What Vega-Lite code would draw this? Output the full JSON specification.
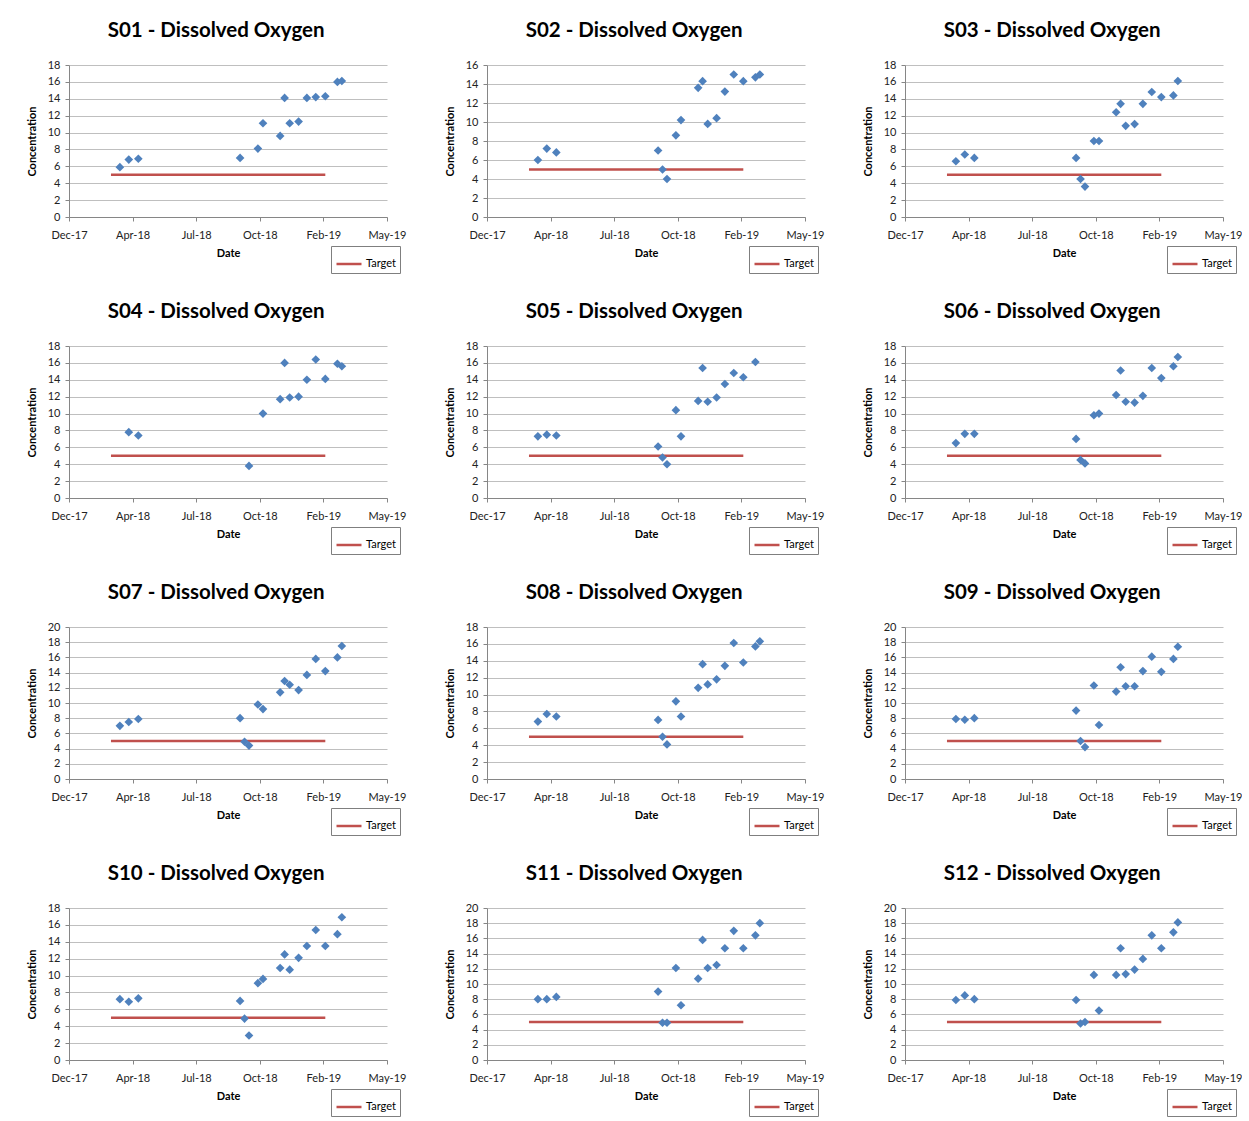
{
"$schema": "https://vega.github.io/schema/vega-lite/v6.json",
"background": "white",
"padding": {"left": 26, "top": 20, "right": 0, "bottom": 0},
"datasets": {
"target": [
{"date": "2018-03-07", "value": 5, "series": "Target"},
{"date": "2019-02-07", "value": 5, "series": "Target"}
],
"obs": [
{"site":"S01","date":"2018-03-21","value":5.9},{"site":"S01","date":"2018-04-04","value":6.8},{"site":"S01","date":"2018-04-19","value":6.9},{"site":"S01","date":"2018-09-26","value":7.0},{"site":"S01","date":"2018-10-24","value":8.1},{"site":"S01","date":"2018-11-01","value":11.1},{"site":"S01","date":"2018-11-28","value":9.6},{"site":"S01","date":"2018-12-05","value":14.1},{"site":"S01","date":"2018-12-13","value":11.1},{"site":"S01","date":"2018-12-27","value":11.3},{"site":"S01","date":"2019-01-09","value":14.1},{"site":"S01","date":"2019-01-23","value":14.2},{"site":"S01","date":"2019-02-07","value":14.3},{"site":"S01","date":"2019-02-26","value":16.0},{"site":"S01","date":"2019-03-05","value":16.1},
{"site":"S02","date":"2018-03-21","value":6.0},{"site":"S02","date":"2018-04-04","value":7.2},{"site":"S02","date":"2018-04-19","value":6.8},{"site":"S02","date":"2018-09-26","value":7.0},{"site":"S02","date":"2018-10-03","value":5.0},{"site":"S02","date":"2018-10-10","value":4.0},{"site":"S02","date":"2018-10-24","value":8.6},{"site":"S02","date":"2018-11-01","value":10.2},{"site":"S02","date":"2018-11-28","value":13.6},{"site":"S02","date":"2018-12-05","value":14.3},{"site":"S02","date":"2018-12-13","value":9.8},{"site":"S02","date":"2018-12-27","value":10.4},{"site":"S02","date":"2019-01-09","value":13.2},{"site":"S02","date":"2019-01-23","value":15.0},{"site":"S02","date":"2019-02-07","value":14.3},{"site":"S02","date":"2019-02-26","value":14.7},{"site":"S02","date":"2019-03-05","value":15.0},
{"site":"S03","date":"2018-03-21","value":6.6},{"site":"S03","date":"2018-04-04","value":7.4},{"site":"S03","date":"2018-04-19","value":7.0},{"site":"S03","date":"2018-09-26","value":7.0},{"site":"S03","date":"2018-10-03","value":4.5},{"site":"S03","date":"2018-10-10","value":3.6},{"site":"S03","date":"2018-10-24","value":9.0},{"site":"S03","date":"2018-11-01","value":9.0},{"site":"S03","date":"2018-11-28","value":12.4},{"site":"S03","date":"2018-12-05","value":13.4},{"site":"S03","date":"2018-12-13","value":10.8},{"site":"S03","date":"2018-12-27","value":11.0},{"site":"S03","date":"2019-01-09","value":13.4},{"site":"S03","date":"2019-01-23","value":14.8},{"site":"S03","date":"2019-02-07","value":14.2},{"site":"S03","date":"2019-02-26","value":14.4},{"site":"S03","date":"2019-03-05","value":16.1},
{"site":"S04","date":"2018-04-04","value":7.8},{"site":"S04","date":"2018-04-19","value":7.4},{"site":"S04","date":"2018-10-10","value":3.8},{"site":"S04","date":"2018-11-01","value":10.0},{"site":"S04","date":"2018-11-28","value":11.7},{"site":"S04","date":"2018-12-05","value":16.0},{"site":"S04","date":"2018-12-13","value":11.9},{"site":"S04","date":"2018-12-27","value":12.0},{"site":"S04","date":"2019-01-09","value":14.0},{"site":"S04","date":"2019-01-23","value":16.4},{"site":"S04","date":"2019-02-07","value":14.1},{"site":"S04","date":"2019-02-26","value":15.9},{"site":"S04","date":"2019-03-05","value":15.6},
{"site":"S05","date":"2018-03-21","value":7.3},{"site":"S05","date":"2018-04-04","value":7.5},{"site":"S05","date":"2018-04-19","value":7.4},{"site":"S05","date":"2018-09-26","value":6.1},{"site":"S05","date":"2018-10-03","value":4.8},{"site":"S05","date":"2018-10-10","value":4.0},{"site":"S05","date":"2018-10-24","value":10.4},{"site":"S05","date":"2018-11-01","value":7.3},{"site":"S05","date":"2018-11-28","value":11.5},{"site":"S05","date":"2018-12-05","value":15.4},{"site":"S05","date":"2018-12-13","value":11.4},{"site":"S05","date":"2018-12-27","value":11.9},{"site":"S05","date":"2019-01-09","value":13.5},{"site":"S05","date":"2019-01-23","value":14.8},{"site":"S05","date":"2019-02-07","value":14.3},{"site":"S05","date":"2019-02-26","value":16.1},
{"site":"S06","date":"2018-03-21","value":6.5},{"site":"S06","date":"2018-04-04","value":7.6},{"site":"S06","date":"2018-04-19","value":7.6},{"site":"S06","date":"2018-09-26","value":7.0},{"site":"S06","date":"2018-10-03","value":4.5},{"site":"S06","date":"2018-10-10","value":4.1},{"site":"S06","date":"2018-10-24","value":9.8},{"site":"S06","date":"2018-11-01","value":10.0},{"site":"S06","date":"2018-11-28","value":12.2},{"site":"S06","date":"2018-12-05","value":15.1},{"site":"S06","date":"2018-12-13","value":11.4},{"site":"S06","date":"2018-12-27","value":11.3},{"site":"S06","date":"2019-01-09","value":12.1},{"site":"S06","date":"2019-01-23","value":15.4},{"site":"S06","date":"2019-02-07","value":14.2},{"site":"S06","date":"2019-02-26","value":15.6},{"site":"S06","date":"2019-03-05","value":16.7},
{"site":"S07","date":"2018-03-21","value":7.0},{"site":"S07","date":"2018-04-04","value":7.5},{"site":"S07","date":"2018-04-19","value":7.9},{"site":"S07","date":"2018-09-26","value":8.0},{"site":"S07","date":"2018-10-03","value":4.9},{"site":"S07","date":"2018-10-10","value":4.4},{"site":"S07","date":"2018-10-24","value":9.8},{"site":"S07","date":"2018-11-01","value":9.2},{"site":"S07","date":"2018-11-28","value":11.4},{"site":"S07","date":"2018-12-05","value":12.9},{"site":"S07","date":"2018-12-13","value":12.4},{"site":"S07","date":"2018-12-27","value":11.7},{"site":"S07","date":"2019-01-09","value":13.7},{"site":"S07","date":"2019-01-23","value":15.8},{"site":"S07","date":"2019-02-07","value":14.2},{"site":"S07","date":"2019-02-26","value":16.0},{"site":"S07","date":"2019-03-05","value":17.5},
{"site":"S08","date":"2018-03-21","value":6.8},{"site":"S08","date":"2018-04-04","value":7.7},{"site":"S08","date":"2018-04-19","value":7.4},{"site":"S08","date":"2018-09-26","value":7.0},{"site":"S08","date":"2018-10-03","value":5.0},{"site":"S08","date":"2018-10-10","value":4.1},{"site":"S08","date":"2018-10-24","value":9.2},{"site":"S08","date":"2018-11-01","value":7.4},{"site":"S08","date":"2018-11-28","value":10.8},{"site":"S08","date":"2018-12-05","value":13.6},{"site":"S08","date":"2018-12-13","value":11.2},{"site":"S08","date":"2018-12-27","value":11.8},{"site":"S08","date":"2019-01-09","value":13.4},{"site":"S08","date":"2019-01-23","value":16.1},{"site":"S08","date":"2019-02-07","value":13.8},{"site":"S08","date":"2019-02-26","value":15.7},{"site":"S08","date":"2019-03-05","value":16.3},
{"site":"S09","date":"2018-03-21","value":7.9},{"site":"S09","date":"2018-04-04","value":7.8},{"site":"S09","date":"2018-04-19","value":8.0},{"site":"S09","date":"2018-09-26","value":9.0},{"site":"S09","date":"2018-10-03","value":5.0},{"site":"S09","date":"2018-10-10","value":4.2},{"site":"S09","date":"2018-10-24","value":12.3},{"site":"S09","date":"2018-11-01","value":7.1},{"site":"S09","date":"2018-11-28","value":11.5},{"site":"S09","date":"2018-12-05","value":14.7},{"site":"S09","date":"2018-12-13","value":12.2},{"site":"S09","date":"2018-12-27","value":12.2},{"site":"S09","date":"2019-01-09","value":14.2},{"site":"S09","date":"2019-01-23","value":16.1},{"site":"S09","date":"2019-02-07","value":14.1},{"site":"S09","date":"2019-02-26","value":15.8},{"site":"S09","date":"2019-03-05","value":17.4},
{"site":"S10","date":"2018-03-21","value":7.2},{"site":"S10","date":"2018-04-04","value":6.9},{"site":"S10","date":"2018-04-19","value":7.3},{"site":"S10","date":"2018-09-26","value":7.0},{"site":"S10","date":"2018-10-03","value":4.9},{"site":"S10","date":"2018-10-10","value":2.9},{"site":"S10","date":"2018-10-24","value":9.1},{"site":"S10","date":"2018-11-01","value":9.6},{"site":"S10","date":"2018-11-28","value":10.9},{"site":"S10","date":"2018-12-05","value":12.5},{"site":"S10","date":"2018-12-13","value":10.7},{"site":"S10","date":"2018-12-27","value":12.1},{"site":"S10","date":"2019-01-09","value":13.5},{"site":"S10","date":"2019-01-23","value":15.4},{"site":"S10","date":"2019-02-07","value":13.5},{"site":"S10","date":"2019-02-26","value":14.9},{"site":"S10","date":"2019-03-05","value":16.9},
{"site":"S11","date":"2018-03-21","value":8.0},{"site":"S11","date":"2018-04-04","value":8.0},{"site":"S11","date":"2018-04-19","value":8.3},{"site":"S11","date":"2018-09-26","value":9.0},{"site":"S11","date":"2018-10-03","value":4.9},{"site":"S11","date":"2018-10-10","value":4.9},{"site":"S11","date":"2018-10-24","value":12.1},{"site":"S11","date":"2018-11-01","value":7.2},{"site":"S11","date":"2018-11-28","value":10.7},{"site":"S11","date":"2018-12-05","value":15.8},{"site":"S11","date":"2018-12-13","value":12.1},{"site":"S11","date":"2018-12-27","value":12.5},{"site":"S11","date":"2019-01-09","value":14.7},{"site":"S11","date":"2019-01-23","value":17.0},{"site":"S11","date":"2019-02-07","value":14.7},{"site":"S11","date":"2019-02-26","value":16.4},{"site":"S11","date":"2019-03-05","value":18.0},
{"site":"S12","date":"2018-03-21","value":7.9},{"site":"S12","date":"2018-04-04","value":8.5},{"site":"S12","date":"2018-04-19","value":8.0},{"site":"S12","date":"2018-09-26","value":7.9},{"site":"S12","date":"2018-10-03","value":4.8},{"site":"S12","date":"2018-10-10","value":5.0},{"site":"S12","date":"2018-10-24","value":11.2},{"site":"S12","date":"2018-11-01","value":6.5},{"site":"S12","date":"2018-11-28","value":11.2},{"site":"S12","date":"2018-12-05","value":14.7},{"site":"S12","date":"2018-12-13","value":11.3},{"site":"S12","date":"2018-12-27","value":11.9},{"site":"S12","date":"2019-01-09","value":13.3},{"site":"S12","date":"2019-01-23","value":16.4},{"site":"S12","date":"2019-02-07","value":14.7},{"site":"S12","date":"2019-02-26","value":16.8},{"site":"S12","date":"2019-03-05","value":18.1}
]
},
"columns": 3,
"spacing": {"row": 27, "column": 38},
"resolve": {"scale": {"x": "independent", "y": "independent", "stroke": "independent"}, "legend": {"stroke": "independent"}},
"config": {
"font": "Lato",
"view": {"stroke": null},
"title": {"font": "Lato", "fontSize": 20.5, "fontWeight": "bold", "color": "#000000", "anchor": "middle", "frame": "bounds", "offset": 18},
"axis": {"labelFont": "Lato", "labelFontSize": 11, "labelColor": "#222222", "titleFont": "Lato", "titleFontSize": 11, "titleFontWeight": "bold", "titleColor": "#000000", "domainColor": "#868686", "tickColor": "#868686", "gridColor": "#BFBFBF", "tickSize": 4, "labelOverlap": false},
"axisX": {"grid": false, "labelPadding": 8, "titlePadding": 7, "labelFlush": false},
"axisY": {"grid": true, "labelPadding": 5, "titlePadding": 10},
"legend": {"strokeColor": "#7F7F7F", "fillColor": "#FFFFFF", "padding": 4, "symbolType": "stroke", "symbolSize": 625, "symbolStrokeWidth": 2.5, "labelFont": "Lato", "labelFontSize": 11, "labelColor": "#000000", "labelOffset": 3}
},
"concat": [
{"width": 318, "height": 152, "title": "S01 - Dissolved Oxygen",
 "encoding": {
  "x": {"field": "date", "type": "temporal", "title": "Date", "scale": {"type": "utc", "domain": [{"year": 2017, "month": 12, "date": 31, "utc": true}, {"year": 2019, "month": 5, "date": 15, "utc": true}]}, "axis": {"format": "%b-%y", "values": [{"year": 2017, "month": 12, "date": 31, "utc": true}, {"year": 2018, "month": 4, "date": 10, "utc": true}, {"year": 2018, "month": 7, "date": 19, "utc": true}, {"year": 2018, "month": 10, "date": 27, "utc": true}, {"year": 2019, "month": 2, "date": 4, "utc": true}, {"year": 2019, "month": 5, "date": 15, "utc": true}]}},
  "y": {"field": "value", "type": "quantitative", "title": "Concentration", "scale": {"domain": [0, 18]}, "axis": {"values": [0, 2, 4, 6, 8, 10, 12, 14, 16, 18]}}
 },
 "layer": [
  {"data": {"name": "target"}, "mark": {"type": "line", "strokeWidth": 2.5}, "encoding": {"stroke": {"field": "series", "type": "nominal", "scale": {"range": ["#C0504D"]}, "legend": {"title": null, "orient": "none", "legendX": 262, "legendY": 181}}}},
  {"data": {"name": "obs"}, "transform": [{"filter": "datum.site === 'S01'"}], "mark": {"type": "point", "shape": "diamond", "filled": true, "size": 75, "color": "#4F81BD", "opacity": 1}}
 ]},
{"width": 318, "height": 152, "title": "S02 - Dissolved Oxygen",
 "encoding": {
  "x": {"field": "date", "type": "temporal", "title": "Date", "scale": {"type": "utc", "domain": [{"year": 2017, "month": 12, "date": 31, "utc": true}, {"year": 2019, "month": 5, "date": 15, "utc": true}]}, "axis": {"format": "%b-%y", "values": [{"year": 2017, "month": 12, "date": 31, "utc": true}, {"year": 2018, "month": 4, "date": 10, "utc": true}, {"year": 2018, "month": 7, "date": 19, "utc": true}, {"year": 2018, "month": 10, "date": 27, "utc": true}, {"year": 2019, "month": 2, "date": 4, "utc": true}, {"year": 2019, "month": 5, "date": 15, "utc": true}]}},
  "y": {"field": "value", "type": "quantitative", "title": "Concentration", "scale": {"domain": [0, 16]}, "axis": {"values": [0, 2, 4, 6, 8, 10, 12, 14, 16]}}
 },
 "layer": [
  {"data": {"name": "target"}, "mark": {"type": "line", "strokeWidth": 2.5}, "encoding": {"stroke": {"field": "series", "type": "nominal", "scale": {"range": ["#C0504D"]}, "legend": {"title": null, "orient": "none", "legendX": 262, "legendY": 181}}}},
  {"data": {"name": "obs"}, "transform": [{"filter": "datum.site === 'S02'"}], "mark": {"type": "point", "shape": "diamond", "filled": true, "size": 75, "color": "#4F81BD", "opacity": 1}}
 ]},
{"width": 318, "height": 152, "title": "S03 - Dissolved Oxygen",
 "encoding": {
  "x": {"field": "date", "type": "temporal", "title": "Date", "scale": {"type": "utc", "domain": [{"year": 2017, "month": 12, "date": 31, "utc": true}, {"year": 2019, "month": 5, "date": 15, "utc": true}]}, "axis": {"format": "%b-%y", "values": [{"year": 2017, "month": 12, "date": 31, "utc": true}, {"year": 2018, "month": 4, "date": 10, "utc": true}, {"year": 2018, "month": 7, "date": 19, "utc": true}, {"year": 2018, "month": 10, "date": 27, "utc": true}, {"year": 2019, "month": 2, "date": 4, "utc": true}, {"year": 2019, "month": 5, "date": 15, "utc": true}]}},
  "y": {"field": "value", "type": "quantitative", "title": "Concentration", "scale": {"domain": [0, 18]}, "axis": {"values": [0, 2, 4, 6, 8, 10, 12, 14, 16, 18]}}
 },
 "layer": [
  {"data": {"name": "target"}, "mark": {"type": "line", "strokeWidth": 2.5}, "encoding": {"stroke": {"field": "series", "type": "nominal", "scale": {"range": ["#C0504D"]}, "legend": {"title": null, "orient": "none", "legendX": 262, "legendY": 181}}}},
  {"data": {"name": "obs"}, "transform": [{"filter": "datum.site === 'S03'"}], "mark": {"type": "point", "shape": "diamond", "filled": true, "size": 75, "color": "#4F81BD", "opacity": 1}}
 ]},
{"width": 318, "height": 152, "title": "S04 - Dissolved Oxygen",
 "encoding": {
  "x": {"field": "date", "type": "temporal", "title": "Date", "scale": {"type": "utc", "domain": [{"year": 2017, "month": 12, "date": 31, "utc": true}, {"year": 2019, "month": 5, "date": 15, "utc": true}]}, "axis": {"format": "%b-%y", "values": [{"year": 2017, "month": 12, "date": 31, "utc": true}, {"year": 2018, "month": 4, "date": 10, "utc": true}, {"year": 2018, "month": 7, "date": 19, "utc": true}, {"year": 2018, "month": 10, "date": 27, "utc": true}, {"year": 2019, "month": 2, "date": 4, "utc": true}, {"year": 2019, "month": 5, "date": 15, "utc": true}]}},
  "y": {"field": "value", "type": "quantitative", "title": "Concentration", "scale": {"domain": [0, 18]}, "axis": {"values": [0, 2, 4, 6, 8, 10, 12, 14, 16, 18]}}
 },
 "layer": [
  {"data": {"name": "target"}, "mark": {"type": "line", "strokeWidth": 2.5}, "encoding": {"stroke": {"field": "series", "type": "nominal", "scale": {"range": ["#C0504D"]}, "legend": {"title": null, "orient": "none", "legendX": 262, "legendY": 181}}}},
  {"data": {"name": "obs"}, "transform": [{"filter": "datum.site === 'S04'"}], "mark": {"type": "point", "shape": "diamond", "filled": true, "size": 75, "color": "#4F81BD", "opacity": 1}}
 ]},
{"width": 318, "height": 152, "title": "S05 - Dissolved Oxygen",
 "encoding": {
  "x": {"field": "date", "type": "temporal", "title": "Date", "scale": {"type": "utc", "domain": [{"year": 2017, "month": 12, "date": 31, "utc": true}, {"year": 2019, "month": 5, "date": 15, "utc": true}]}, "axis": {"format": "%b-%y", "values": [{"year": 2017, "month": 12, "date": 31, "utc": true}, {"year": 2018, "month": 4, "date": 10, "utc": true}, {"year": 2018, "month": 7, "date": 19, "utc": true}, {"year": 2018, "month": 10, "date": 27, "utc": true}, {"year": 2019, "month": 2, "date": 4, "utc": true}, {"year": 2019, "month": 5, "date": 15, "utc": true}]}},
  "y": {"field": "value", "type": "quantitative", "title": "Concentration", "scale": {"domain": [0, 18]}, "axis": {"values": [0, 2, 4, 6, 8, 10, 12, 14, 16, 18]}}
 },
 "layer": [
  {"data": {"name": "target"}, "mark": {"type": "line", "strokeWidth": 2.5}, "encoding": {"stroke": {"field": "series", "type": "nominal", "scale": {"range": ["#C0504D"]}, "legend": {"title": null, "orient": "none", "legendX": 262, "legendY": 181}}}},
  {"data": {"name": "obs"}, "transform": [{"filter": "datum.site === 'S05'"}], "mark": {"type": "point", "shape": "diamond", "filled": true, "size": 75, "color": "#4F81BD", "opacity": 1}}
 ]},
{"width": 318, "height": 152, "title": "S06 - Dissolved Oxygen",
 "encoding": {
  "x": {"field": "date", "type": "temporal", "title": "Date", "scale": {"type": "utc", "domain": [{"year": 2017, "month": 12, "date": 31, "utc": true}, {"year": 2019, "month": 5, "date": 15, "utc": true}]}, "axis": {"format": "%b-%y", "values": [{"year": 2017, "month": 12, "date": 31, "utc": true}, {"year": 2018, "month": 4, "date": 10, "utc": true}, {"year": 2018, "month": 7, "date": 19, "utc": true}, {"year": 2018, "month": 10, "date": 27, "utc": true}, {"year": 2019, "month": 2, "date": 4, "utc": true}, {"year": 2019, "month": 5, "date": 15, "utc": true}]}},
  "y": {"field": "value", "type": "quantitative", "title": "Concentration", "scale": {"domain": [0, 18]}, "axis": {"values": [0, 2, 4, 6, 8, 10, 12, 14, 16, 18]}}
 },
 "layer": [
  {"data": {"name": "target"}, "mark": {"type": "line", "strokeWidth": 2.5}, "encoding": {"stroke": {"field": "series", "type": "nominal", "scale": {"range": ["#C0504D"]}, "legend": {"title": null, "orient": "none", "legendX": 262, "legendY": 181}}}},
  {"data": {"name": "obs"}, "transform": [{"filter": "datum.site === 'S06'"}], "mark": {"type": "point", "shape": "diamond", "filled": true, "size": 75, "color": "#4F81BD", "opacity": 1}}
 ]},
{"width": 318, "height": 152, "title": "S07 - Dissolved Oxygen",
 "encoding": {
  "x": {"field": "date", "type": "temporal", "title": "Date", "scale": {"type": "utc", "domain": [{"year": 2017, "month": 12, "date": 31, "utc": true}, {"year": 2019, "month": 5, "date": 15, "utc": true}]}, "axis": {"format": "%b-%y", "values": [{"year": 2017, "month": 12, "date": 31, "utc": true}, {"year": 2018, "month": 4, "date": 10, "utc": true}, {"year": 2018, "month": 7, "date": 19, "utc": true}, {"year": 2018, "month": 10, "date": 27, "utc": true}, {"year": 2019, "month": 2, "date": 4, "utc": true}, {"year": 2019, "month": 5, "date": 15, "utc": true}]}},
  "y": {"field": "value", "type": "quantitative", "title": "Concentration", "scale": {"domain": [0, 20]}, "axis": {"values": [0, 2, 4, 6, 8, 10, 12, 14, 16, 18, 20]}}
 },
 "layer": [
  {"data": {"name": "target"}, "mark": {"type": "line", "strokeWidth": 2.5}, "encoding": {"stroke": {"field": "series", "type": "nominal", "scale": {"range": ["#C0504D"]}, "legend": {"title": null, "orient": "none", "legendX": 262, "legendY": 181}}}},
  {"data": {"name": "obs"}, "transform": [{"filter": "datum.site === 'S07'"}], "mark": {"type": "point", "shape": "diamond", "filled": true, "size": 75, "color": "#4F81BD", "opacity": 1}}
 ]},
{"width": 318, "height": 152, "title": "S08 - Dissolved Oxygen",
 "encoding": {
  "x": {"field": "date", "type": "temporal", "title": "Date", "scale": {"type": "utc", "domain": [{"year": 2017, "month": 12, "date": 31, "utc": true}, {"year": 2019, "month": 5, "date": 15, "utc": true}]}, "axis": {"format": "%b-%y", "values": [{"year": 2017, "month": 12, "date": 31, "utc": true}, {"year": 2018, "month": 4, "date": 10, "utc": true}, {"year": 2018, "month": 7, "date": 19, "utc": true}, {"year": 2018, "month": 10, "date": 27, "utc": true}, {"year": 2019, "month": 2, "date": 4, "utc": true}, {"year": 2019, "month": 5, "date": 15, "utc": true}]}},
  "y": {"field": "value", "type": "quantitative", "title": "Concentration", "scale": {"domain": [0, 18]}, "axis": {"values": [0, 2, 4, 6, 8, 10, 12, 14, 16, 18]}}
 },
 "layer": [
  {"data": {"name": "target"}, "mark": {"type": "line", "strokeWidth": 2.5}, "encoding": {"stroke": {"field": "series", "type": "nominal", "scale": {"range": ["#C0504D"]}, "legend": {"title": null, "orient": "none", "legendX": 262, "legendY": 181}}}},
  {"data": {"name": "obs"}, "transform": [{"filter": "datum.site === 'S08'"}], "mark": {"type": "point", "shape": "diamond", "filled": true, "size": 75, "color": "#4F81BD", "opacity": 1}}
 ]},
{"width": 318, "height": 152, "title": "S09 - Dissolved Oxygen",
 "encoding": {
  "x": {"field": "date", "type": "temporal", "title": "Date", "scale": {"type": "utc", "domain": [{"year": 2017, "month": 12, "date": 31, "utc": true}, {"year": 2019, "month": 5, "date": 15, "utc": true}]}, "axis": {"format": "%b-%y", "values": [{"year": 2017, "month": 12, "date": 31, "utc": true}, {"year": 2018, "month": 4, "date": 10, "utc": true}, {"year": 2018, "month": 7, "date": 19, "utc": true}, {"year": 2018, "month": 10, "date": 27, "utc": true}, {"year": 2019, "month": 2, "date": 4, "utc": true}, {"year": 2019, "month": 5, "date": 15, "utc": true}]}},
  "y": {"field": "value", "type": "quantitative", "title": "Concentration", "scale": {"domain": [0, 20]}, "axis": {"values": [0, 2, 4, 6, 8, 10, 12, 14, 16, 18, 20]}}
 },
 "layer": [
  {"data": {"name": "target"}, "mark": {"type": "line", "strokeWidth": 2.5}, "encoding": {"stroke": {"field": "series", "type": "nominal", "scale": {"range": ["#C0504D"]}, "legend": {"title": null, "orient": "none", "legendX": 262, "legendY": 181}}}},
  {"data": {"name": "obs"}, "transform": [{"filter": "datum.site === 'S09'"}], "mark": {"type": "point", "shape": "diamond", "filled": true, "size": 75, "color": "#4F81BD", "opacity": 1}}
 ]},
{"width": 318, "height": 152, "title": "S10 - Dissolved Oxygen",
 "encoding": {
  "x": {"field": "date", "type": "temporal", "title": "Date", "scale": {"type": "utc", "domain": [{"year": 2017, "month": 12, "date": 31, "utc": true}, {"year": 2019, "month": 5, "date": 15, "utc": true}]}, "axis": {"format": "%b-%y", "values": [{"year": 2017, "month": 12, "date": 31, "utc": true}, {"year": 2018, "month": 4, "date": 10, "utc": true}, {"year": 2018, "month": 7, "date": 19, "utc": true}, {"year": 2018, "month": 10, "date": 27, "utc": true}, {"year": 2019, "month": 2, "date": 4, "utc": true}, {"year": 2019, "month": 5, "date": 15, "utc": true}]}},
  "y": {"field": "value", "type": "quantitative", "title": "Concentration", "scale": {"domain": [0, 18]}, "axis": {"values": [0, 2, 4, 6, 8, 10, 12, 14, 16, 18]}}
 },
 "layer": [
  {"data": {"name": "target"}, "mark": {"type": "line", "strokeWidth": 2.5}, "encoding": {"stroke": {"field": "series", "type": "nominal", "scale": {"range": ["#C0504D"]}, "legend": {"title": null, "orient": "none", "legendX": 262, "legendY": 181}}}},
  {"data": {"name": "obs"}, "transform": [{"filter": "datum.site === 'S10'"}], "mark": {"type": "point", "shape": "diamond", "filled": true, "size": 75, "color": "#4F81BD", "opacity": 1}}
 ]},
{"width": 318, "height": 152, "title": "S11 - Dissolved Oxygen",
 "encoding": {
  "x": {"field": "date", "type": "temporal", "title": "Date", "scale": {"type": "utc", "domain": [{"year": 2017, "month": 12, "date": 31, "utc": true}, {"year": 2019, "month": 5, "date": 15, "utc": true}]}, "axis": {"format": "%b-%y", "values": [{"year": 2017, "month": 12, "date": 31, "utc": true}, {"year": 2018, "month": 4, "date": 10, "utc": true}, {"year": 2018, "month": 7, "date": 19, "utc": true}, {"year": 2018, "month": 10, "date": 27, "utc": true}, {"year": 2019, "month": 2, "date": 4, "utc": true}, {"year": 2019, "month": 5, "date": 15, "utc": true}]}},
  "y": {"field": "value", "type": "quantitative", "title": "Concentration", "scale": {"domain": [0, 20]}, "axis": {"values": [0, 2, 4, 6, 8, 10, 12, 14, 16, 18, 20]}}
 },
 "layer": [
  {"data": {"name": "target"}, "mark": {"type": "line", "strokeWidth": 2.5}, "encoding": {"stroke": {"field": "series", "type": "nominal", "scale": {"range": ["#C0504D"]}, "legend": {"title": null, "orient": "none", "legendX": 262, "legendY": 181}}}},
  {"data": {"name": "obs"}, "transform": [{"filter": "datum.site === 'S11'"}], "mark": {"type": "point", "shape": "diamond", "filled": true, "size": 75, "color": "#4F81BD", "opacity": 1}}
 ]},
{"width": 318, "height": 152, "title": "S12 - Dissolved Oxygen",
 "encoding": {
  "x": {"field": "date", "type": "temporal", "title": "Date", "scale": {"type": "utc", "domain": [{"year": 2017, "month": 12, "date": 31, "utc": true}, {"year": 2019, "month": 5, "date": 15, "utc": true}]}, "axis": {"format": "%b-%y", "values": [{"year": 2017, "month": 12, "date": 31, "utc": true}, {"year": 2018, "month": 4, "date": 10, "utc": true}, {"year": 2018, "month": 7, "date": 19, "utc": true}, {"year": 2018, "month": 10, "date": 27, "utc": true}, {"year": 2019, "month": 2, "date": 4, "utc": true}, {"year": 2019, "month": 5, "date": 15, "utc": true}]}},
  "y": {"field": "value", "type": "quantitative", "title": "Concentration", "scale": {"domain": [0, 20]}, "axis": {"values": [0, 2, 4, 6, 8, 10, 12, 14, 16, 18, 20]}}
 },
 "layer": [
  {"data": {"name": "target"}, "mark": {"type": "line", "strokeWidth": 2.5}, "encoding": {"stroke": {"field": "series", "type": "nominal", "scale": {"range": ["#C0504D"]}, "legend": {"title": null, "orient": "none", "legendX": 262, "legendY": 181}}}},
  {"data": {"name": "obs"}, "transform": [{"filter": "datum.site === 'S12'"}], "mark": {"type": "point", "shape": "diamond", "filled": true, "size": 75, "color": "#4F81BD", "opacity": 1}}
 ]}
]
}
